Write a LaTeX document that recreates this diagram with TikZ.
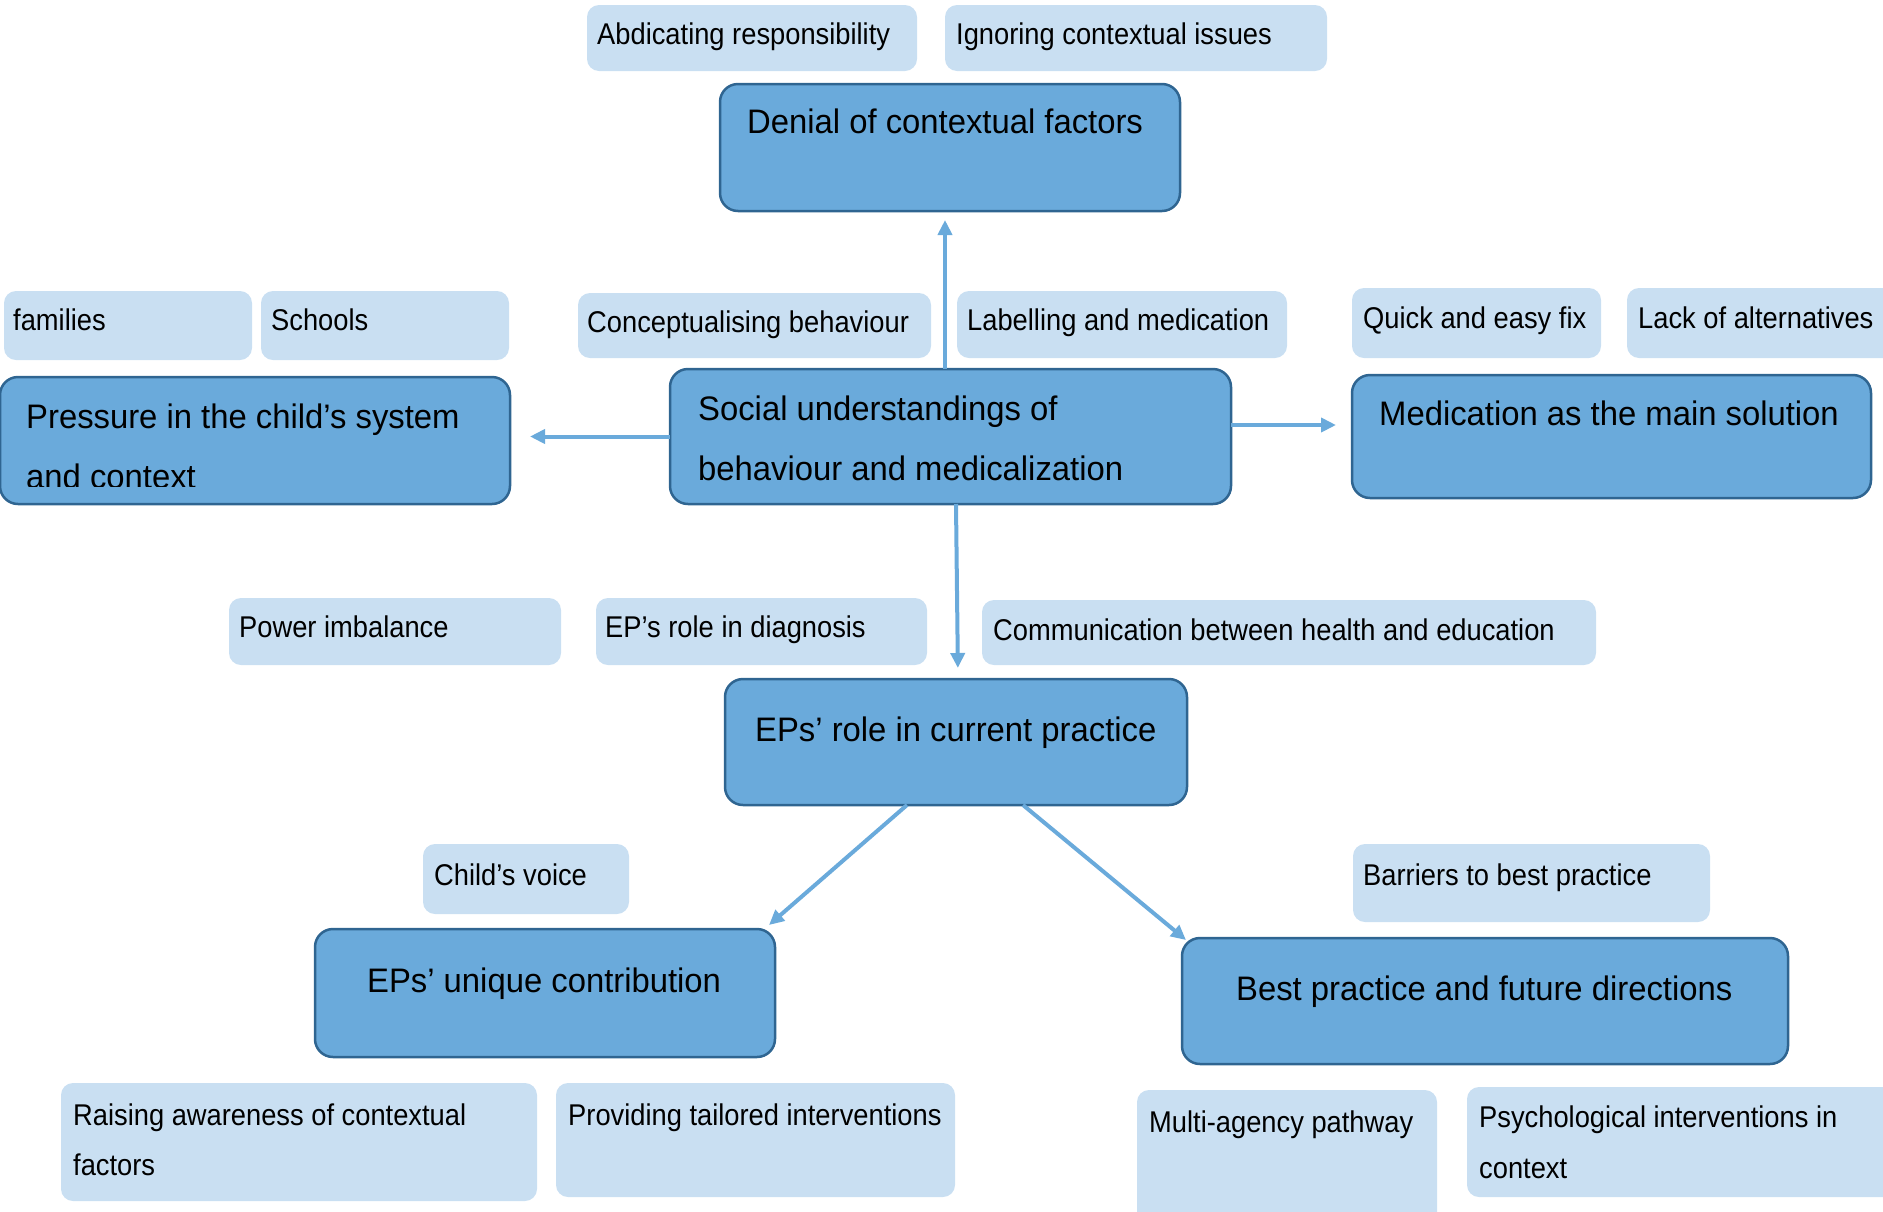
\documentclass[tikz,border=0pt]{standalone}
\usepackage{fontspec}
\setmainfont{Liberation Sans}
% slightly condensed faces for the two text sizes
\newfontfamily\smallface[FakeStretch=0.91]{Liberation Sans}
\newfontfamily\bigface[FakeStretch=0.965]{Liberation Sans}
\usetikzlibrary{arrows.meta}

\definecolor{lightfill}{HTML}{C9DFF2}
\definecolor{darkfill}{HTML}{6AAADB}
\definecolor{darkline}{HTML}{2F6591}
\definecolor{arrowblue}{HTML}{6AAADB}

\tikzset{
  lightbox/.style={fill=lightfill, draw=none, rounded corners=12pt},
  darkbox/.style={fill=darkfill, draw=darkline, line width=2.5pt, rounded corners=18pt},
  smalltext/.style={font=\smallface\fontsize{30}{36}\selectfont, inner sep=0pt, anchor=base west},
  bigtext/.style={font=\bigface\fontsize{34}{40}\selectfont, inner sep=0pt, anchor=base west},
  arr/.style={draw=arrowblue, line width=4pt, -{Triangle[length=15pt,width=14pt]}}
}

% box node from its top-left (x1,y1) to bottom-right (x2,y2)
\newcommand\boxnode[6]{%
  \node[#1, anchor=north west, inner sep=0pt, outer sep=0pt,
        minimum width={(#5-#3)*1pt}, minimum height={(#6-#4)*1pt}] (#2) at (#3,#4) {};}

\begin{document}
\begin{tikzpicture}[x=1pt,y=-1pt]
\useasboundingbox (0,0) rectangle (1883,1211);

% ---- small theme boxes ----
\boxnode{lightbox}{abd}{587}{5}{917}{71}
\boxnode{lightbox}{ign}{945}{5}{1327}{71}
\boxnode{lightbox}{fam}{4}{291}{252}{360}
\boxnode{lightbox}{sch}{261}{291}{509}{360}
\boxnode{lightbox}{con}{578}{293}{931}{358}
\boxnode{lightbox}{lab}{957}{291}{1287}{358}
\boxnode{lightbox}{qui}{1352}{288}{1601}{358}
\boxnode{lightbox}{lac}{1627}{288}{1910}{358}
\boxnode{lightbox}{pow}{229}{598}{561}{665}
\boxnode{lightbox}{dia}{596}{598}{927}{665}
\boxnode{lightbox}{com}{982}{600}{1596}{665}
\boxnode{lightbox}{voi}{423}{844}{629}{914}
\boxnode{lightbox}{bar}{1353}{844}{1710}{922}
\boxnode{lightbox}{rai}{61}{1083}{537}{1201}
\boxnode{lightbox}{pro}{556}{1083}{955}{1197}
\boxnode{lightbox}{mul}{1137}{1090}{1437}{1225}
\boxnode{lightbox}{psy}{1467}{1087}{1910}{1197}

\node[smalltext] (abdT) at (597,44) {Abdicating responsibility};
\node[smalltext] (ignT) at (956,44) {Ignoring contextual issues};
\node[smalltext] (famT) at (13,330) {families};
\node[smalltext] (schT) at (271,330) {Schools};
\node[smalltext] (conT) at (587,332) {Conceptualising behaviour};
\node[smalltext] (labT) at (967,330) {Labelling and medication};
\node[smalltext] (quiT) at (1363,328) {Quick and easy fix};
\node[smalltext] (lacT) at (1638,328) {Lack of alternatives};
\node[smalltext] (powT) at (239,637) {Power imbalance};
\node[smalltext] (diaT) at (605,637) {EP’s role in diagnosis};
\node[smalltext] (comT) at (993,640) {Communication between health and education};
\node[smalltext] (voiT) at (434,885) {Child’s voice};
\node[smalltext] (barT) at (1363,885) {Barriers to best practice};
\node[smalltext] (raiT) at (73,1125) {Raising awareness of contextual};
\node[smalltext] (raiT2) at (73,1175) {factors};
\node[smalltext] (proT) at (568,1125) {Providing tailored interventions};
\node[smalltext] (mulT) at (1149,1132) {Multi-agency pathway};
\node[smalltext] (psyT) at (1479,1127) {Psychological interventions in};
\node[smalltext] (psyT2) at (1479,1178) {context};

% ---- main theme boxes ----
\boxnode{darkbox}{den}{720}{84}{1180}{211}
\boxnode{darkbox}{pre}{0}{377}{510}{504}
\boxnode{darkbox}{soc}{670}{369}{1231}{504}
\boxnode{darkbox}{med}{1352}{375}{1871}{498}
\boxnode{darkbox}{rol}{725}{679}{1187}{805}
\boxnode{darkbox}{uni}{315}{929}{775}{1057}
\boxnode{darkbox}{bes}{1182}{938}{1788}{1064}

\node[bigtext] (denT) at (747,133) {Denial of contextual factors};
\begin{scope}
  \clip (0,377) rectangle (510,486);
  \node[bigtext] (preT) at (26,428) {Pressure in the child’s system};
  \node[bigtext] (preT2) at (26,488) {and context};
\end{scope}
\node[bigtext] (socT) at (698,420) {Social understandings of};
\node[bigtext] (socT2) at (698,480) {behaviour and medicalization};
\node[bigtext] (medT) at (1379,425) {Medication as the main solution};
\node[bigtext] (rolT) at (755,741) {EPs’ role in current practice};
\node[bigtext] (uniT) at (367,992) {EPs’ unique contribution};
\node[bigtext] (besT) at (1236,1000) {Best practice and future directions};

% ---- connectors ----
\draw[arr, shorten >=9pt] ([xshift=-5.5pt]soc.north) -- ([xshift=-5pt]den.south);
\draw[arr, shorten >=20pt] (soc.west) -- (soc.west -| pre.east);
\draw[arr, shorten >=16pt] ([yshift=11.5pt]soc.east) -- ([yshift=11.5pt]soc.east -| med.west);
\draw[arr, shorten >=11pt] ([xshift=5.5pt]soc.south) -- ([xshift=2pt]rol.north);
\draw[arr] ([xshift=-49pt]rol.south) -- ([xshift=-6pt,yshift=4pt]uni.north east);
\draw[arr] ([xshift=67pt]rol.south) -- ([xshift=4pt,yshift=-2pt]bes.north west);
\end{tikzpicture}
\end{document}
